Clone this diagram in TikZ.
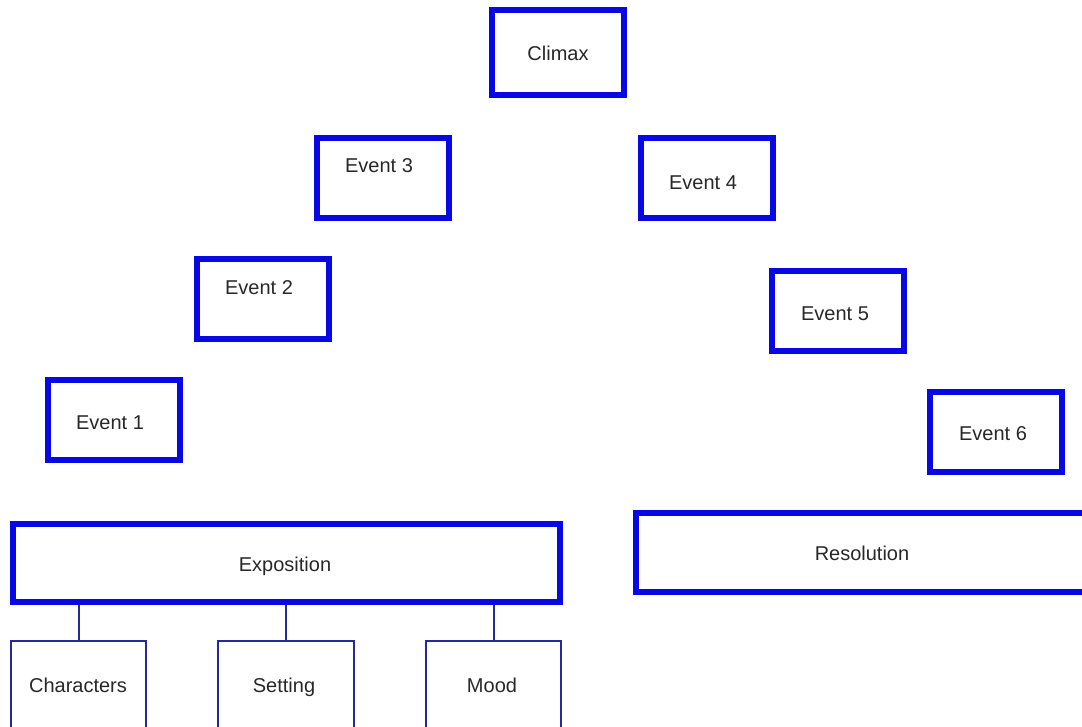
\documentclass[tikz,border=0pt]{standalone}
\usepackage{fontspec}
\setmainfont{Liberation Sans}
\definecolor{thickblue}{RGB}{8,8,228}
\definecolor{thinblue}{RGB}{40,40,150}
\definecolor{txt}{RGB}{40,40,40}
\begin{document}
\begin{tikzpicture}[x=1pt,y=-1pt,
  bigbox/.style={draw=thickblue,line width=6pt,fill=white,inner sep=0pt,minimum width=132pt,minimum height=80pt},
  smallbox/.style={draw=thinblue,line width=2pt,fill=white,inner sep=0pt,minimum width=135.5pt,minimum height=118pt},
  lbl/.style={text=txt,font=\fontsize{20pt}{24pt}\selectfont,anchor=base,inner sep=0pt},
  link/.style={draw=thinblue,line width=2pt}]
\useasboundingbox (0,0) rectangle (1082,726);
\clip (0,0) rectangle (1082,726);
\fill[white] (0,0) rectangle (1082,726);
% boxes
\node[bigbox,minimum height=85pt] (climax) at (558,52.5) {};
\node[bigbox] (e3) at (383,178) {};
\node[bigbox] (e4) at (706.5,178) {};
\node[bigbox] (e2) at (262.5,298.5) {};
\node[bigbox] (e5) at (838,310.5) {};
\node[bigbox] (e1) at (114,419.5) {};
\node[bigbox] (e6) at (995.5,431.5) {};
\node[bigbox,minimum width=547pt,minimum height=78pt] (expo) at (286.5,563) {};
\node[bigbox,minimum width=454pt,minimum height=79pt] (reso) at (863,552.5) {};
\node[smallbox] (chars) at (78.5,700) {};
\node[smallbox] (sett) at (286,700) {};
\node[smallbox] (mood) at (493.5,700) {};
% connectors
\draw[link] (chars.north) -- (chars.north |- expo.south);
\draw[link] (sett.north) -- (sett.north |- expo.south);
\draw[link] (mood.north) -- (mood.north |- expo.south);
% labels
\node[lbl] (tclimax) at (558,60) {Climax};
\node[lbl] (te3) at (379,172) {Event 3};
\node[lbl] (te4) at (703,189) {Event 4};
\node[lbl] (te2) at (259,294) {Event 2};
\node[lbl] (te5) at (835,320) {Event 5};
\node[lbl] (te1) at (110,429) {Event 1};
\node[lbl] (te6) at (993,440) {Event 6};
\node[lbl] (texpo) at (285,571) {Exposition};
\node[lbl] (treso) at (862,560) {Resolution};
\node[lbl] (tchars) at (78,692) {Characters};
\node[lbl] (tsett) at (284,692) {Setting};
\node[lbl] (tmood) at (492,692) {Mood};
\end{tikzpicture}
\end{document}
